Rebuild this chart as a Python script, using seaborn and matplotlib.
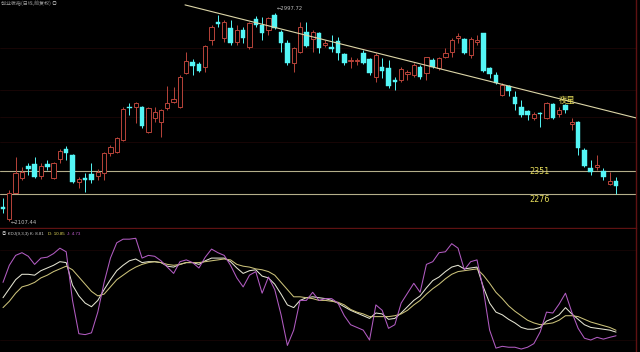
import numpy as np
import pandas as pd
import matplotlib
matplotlib.use("Agg")
import matplotlib.pyplot as plt
import seaborn as sns

# ---------------- data ----------------
open_ = [2167, 2116, 2227, 2291, 2343, 2351, 2300, 2351, 2291, 2372,
         2415, 2390, 2274, 2291, 2308, 2300, 2313, 2398, 2402, 2454,
         2593, 2595, 2595, 2488, 2548, 2531, 2591, 2616, 2595, 2741,
         2788, 2779, 2766, 2882, 2959, 2890, 2933, 2873, 2925, 2852,
         2972, 2946, 2925, 2990, 2916, 2869, 2783, 2830, 2916, 2886,
         2912, 2860, 2852, 2878, 2822, 2792, 2792, 2826, 2800, 2723,
         2766, 2762, 2711, 2711, 2736, 2732, 2766, 2741, 2796, 2762,
         2809, 2830, 2890, 2886, 2818, 2873, 2912, 2762, 2732, 2646,
         2685, 2638, 2595, 2578, 2548, 2569, 2548, 2608, 2565, 2604,
         2522, 2531, 2411, 2334, 2338, 2321, 2266, 2278]
high = [2206, 2240, 2381, 2338, 2355, 2381, 2355, 2368, 2360, 2415,
        2428, 2394, 2295, 2313, 2355, 2330, 2402, 2432, 2467, 2595,
        2612, 2616, 2599, 2595, 2595, 2586, 2685, 2681, 2732, 2830,
        2800, 2788, 2860, 2946, 2989, 2967, 2967, 2946, 2937, 2959,
        2985, 2980, 2980, 2997.72, 2925, 2882, 2852, 2959, 2959, 2925,
        2916, 2882, 2903, 2895, 2826, 2809, 2805, 2839, 2805, 2826,
        2805, 2796, 2723, 2766, 2753, 2783, 2775, 2809, 2805, 2809,
        2848, 2890, 2912, 2890, 2895, 2903, 2912, 2766, 2745, 2698,
        2689, 2664, 2625, 2582, 2574, 2574, 2616, 2612, 2595, 2608,
        2548, 2535, 2420, 2368, 2390, 2334, 2317, 2295]
low = [2141, 2107.44, 2225, 2283, 2304, 2291, 2287, 2325, 2287, 2355,
       2368, 2270, 2248, 2231, 2270, 2283, 2283, 2385, 2398, 2450,
       2561, 2527, 2505, 2484, 2531, 2467, 2582, 2612, 2591, 2736,
       2732, 2745, 2745, 2860, 2937, 2873, 2860, 2860, 2869, 2843,
       2937, 2882, 2903, 2929, 2830, 2775, 2745, 2826, 2852, 2830,
       2826, 2852, 2830, 2796, 2775, 2762, 2775, 2779, 2732, 2702,
       2719, 2676, 2668, 2702, 2711, 2723, 2715, 2711, 2762, 2753,
       2805, 2809, 2869, 2822, 2805, 2860, 2745, 2719, 2693, 2642,
       2642, 2582, 2552, 2539, 2539, 2509, 2544, 2544, 2552, 2569,
       2497, 2390, 2338, 2304, 2325, 2283, 2261, 2223]
close = [2158, 2227, 2313, 2317, 2330, 2295, 2343, 2338, 2355, 2407,
         2398, 2274, 2287, 2283, 2283, 2317, 2398, 2424, 2462, 2586,
         2589, 2612, 2514, 2591, 2574, 2582, 2612, 2629, 2723, 2792,
         2770, 2749, 2856, 2937, 2950, 2959, 2869, 2925, 2890, 2955,
         2946, 2912, 2976, 2933, 2869, 2783, 2848, 2937, 2856, 2916,
         2848, 2869, 2843, 2826, 2783, 2796, 2796, 2783, 2741, 2818,
         2749, 2685, 2702, 2758, 2745, 2775, 2723, 2809, 2766, 2805,
         2826, 2882, 2899, 2826, 2886, 2882, 2749, 2736, 2698, 2689,
         2664, 2608, 2561, 2561, 2565, 2565, 2612, 2548, 2582, 2582,
         2531, 2420, 2343, 2317, 2347, 2295, 2278, 2257]

k_vals = [47, 57, 67, 73, 73, 72, 77, 80, 83, 87,
          86, 61, 49, 41, 37, 44, 56, 67, 77, 83,
          88, 90, 86, 87, 87, 86, 82, 81, 84, 86,
          86, 84, 88, 91, 91, 91, 87, 80, 74, 77,
          78, 71, 69, 62, 51, 39, 36, 44, 47, 48,
          47, 46, 44, 41, 37, 33, 30, 27, 24, 30,
          29, 23, 24, 30, 37, 44, 49, 58, 66, 70,
          76, 81, 83, 79, 80, 81, 59, 41, 31, 28,
          23, 19, 14, 12, 12, 14, 21, 24, 28, 36,
          29, 23, 17, 14, 13, 12, 11, 8.81]
d_vals = [36, 43, 52, 59, 61, 64, 69, 72, 76, 79,
          82, 78, 70, 62, 54, 49, 51, 59, 67, 72,
          77, 81, 84, 86, 87, 86, 84, 83, 84, 86,
          86, 86, 87, 88, 89, 90, 89, 84, 82, 81,
          79, 78, 76, 72, 64, 56, 48, 48, 47, 46,
          44, 44, 43, 42, 39, 34, 31, 29, 26, 26,
          26, 26, 27, 29, 33, 39, 44, 51, 57, 62,
          68, 73, 76, 77, 78, 79, 72, 63, 53, 46,
          38, 32, 27, 22, 19, 17, 18, 19, 22, 27,
          27, 26, 23, 20, 18, 16, 14, 10.85]
j_vals = [64, 83, 94, 97, 93, 84, 91, 92, 96, 102,
          98, 44, 7, 6, 8, 31, 64, 91, 108, 112,
          112, 113, 91, 94, 93, 88, 81, 74, 87, 89,
          86, 80, 92, 101, 97, 94, 83, 69, 59, 72,
          76, 52, 70, 56, 28, -6, 11, 44, 44, 53,
          44, 46, 46, 41, 27, 17, 14, 11, 0, 39,
          33, 13, 17, 41, 52, 63, 53, 84, 87, 97,
          98, 107, 102, 78, 87, 89, 56, 11, -9, -7,
          -8, -8, -10, -8, -4, 9, 31, 30, 40, 52,
          31, 13, 2, 0, 3, 1, 3, 4.73]

trend_x = [28.8, 100.2]
trend_y = [3032, 2548]
level_prices = [2319, 2223]
level_labels = ["2351", "2276"]
pattern_label = "夜星"
high_label = "2997.72"
low_label = "2107.44"
title_text = "创业板指(日线,前复权) ◎"
kdj_texts = ["◎ KDJ(9,3,3) K: 8.81", "D: 10.85", "J: 4.73"]

# ---------------- style ----------------
sns.set_style("dark")
plt.rcParams["font.family"] = ["Noto Sans CJK SC", "DejaVu Sans"]
plt.rcParams["axes.unicode_minus"] = False

BG = "#000000"
CYAN = "#54f6f6"
RED = "#b8443a"
FRAME = "#5e1212"
GRID = "#1c0606"

idx = np.arange(len(open_))
O = np.array(open_, float)
C = np.array(close, float)
H = np.array(high, float)
L = np.array(low, float)
up = C >= O
top = np.maximum(O, C)
bot = np.minimum(O, C)
hgt = np.maximum(top - bot, 1.8)

fig = plt.figure(figsize=(6.4, 3.52), dpi=100, facecolor=BG)
ax1 = fig.add_axes([0, 124 / 352, 636 / 640, 228 / 352], facecolor=BG)
ax2 = fig.add_axes([0, 0, 636 / 640, 123 / 352], facecolor=BG)

xl = (-0.475, 100.16)

# grid (very faint)
for g in [2848, 2668, 2552, 2445]:
    ax1.axhline(g, color=GRID, lw=0.6, zorder=0)

# wicks
ax1.vlines(idx[up], top[up], H[up], color=RED, lw=0.7, zorder=2)
ax1.vlines(idx[up], L[up], bot[up], color=RED, lw=0.7, zorder=2)
ax1.vlines(idx[~up], L[~up], H[~up], color=CYAN, lw=0.7, zorder=2)
# bodies
ax1.bar(idx[up], hgt[up], bottom=bot[up], width=0.68, facecolor=BG,
        edgecolor=RED, linewidth=0.7, zorder=3)
ax1.bar(idx[~up], hgt[~up], bottom=bot[~up], width=0.72, facecolor=CYAN,
        edgecolor=CYAN, linewidth=0.3, zorder=3)

# trend line and levels
ax1.plot(trend_x, trend_y, color="#ddd6a8", lw=0.8, zorder=4)
for lv in level_prices:
    ax1.axhline(lv, color="#b4ae8a", lw=0.8, zorder=1)

ax1.set_xlim(*xl)
ax1.set_ylim(2077, 3053)
ax1.set_xticks([])
ax1.set_yticks([])
for s in ["top", "left"]:
    ax1.spines[s].set_visible(False)
for s in ["bottom", "right"]:
    ax1.spines[s].set_color(FRAME)
    ax1.spines[s].set_linewidth(1.0)

# texts (figure pixel coords)
def ft(px, py, s, **kw):
    fig.text(px / 640, 1 - py / 352, s, **kw)

ft(540, 171, level_labels[0], color="#e6dc5a", fontsize=5.8, ha="center",
   va="center", family=["DejaVu Sans"])
ft(540, 199.5, level_labels[1], color="#e6dc5a", fontsize=5.8, ha="center",
   va="center", family=["DejaVu Sans"])
ft(567, 100, pattern_label, color="#e6dc5a", fontsize=6, ha="center", va="center")
ft(1, 3.5, title_text, color="#9a9a9a", fontsize=3.6, ha="left", va="center")

ax1.annotate("←" + high_label, xy=(43, 2997.72), xytext=(1.5, 3), textcoords="offset points",
             color="#bbbbbb", fontsize=3.8, ha="left", va="center", family=["DejaVu Sans"])
ax1.annotate("←" + low_label, xy=(1, 2107.44), xytext=(1.0, -0.8), textcoords="offset points",
             color="#bbbbbb", fontsize=3.8, ha="left", va="center", family=["DejaVu Sans"])

# KDJ panel
kdj = pd.DataFrame({"i": idx, "K": k_vals, "D": d_vals, "J": j_vals})
sns.lineplot(data=kdj, x="i", y="K", ax=ax2, color="#e4e4d2", lw=0.75)
sns.lineplot(data=kdj, x="i", y="D", ax=ax2, color="#cbc27a", lw=0.75)
sns.lineplot(data=kdj, x="i", y="J", ax=ax2, color="#b25cc2", lw=0.75)
for g in [100, 0]:
    ax2.axhline(g, color=GRID, lw=0.5, zorder=0)
ax2.set_xlim(*xl)
ax2.set_ylim(-13.3, 123.3)
ax2.set_xticks([])
ax2.set_yticks([])
ax2.set_xlabel("")
ax2.set_ylabel("")
for s in ["top", "left", "bottom"]:
    ax2.spines[s].set_visible(False)
ax2.spines["right"].set_color(FRAME)
ax2.spines["right"].set_linewidth(1.0)

lab_font = ["Liberation Sans", "Noto Sans CJK SC"]
ft(1.5, 234, kdj_texts[0], color="#cfcfcf", fontsize=3.2, ha="left", va="center",
   family=lab_font)
ft(48, 234, kdj_texts[1], color="#e6dc5a", fontsize=3.2, ha="left", va="center",
   family=lab_font)
ft(67, 234, kdj_texts[2], color="#c060d0", fontsize=3.2, ha="left", va="center",
   family=lab_font)

fig.savefig("out.png", dpi=100, facecolor=BG)
